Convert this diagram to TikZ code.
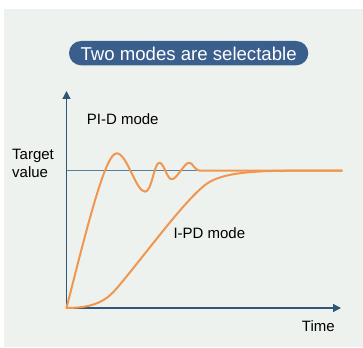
\documentclass[tikz,border=0pt]{standalone}
\usepackage{fontspec}
\setmainfont{Liberation Sans}
\usetikzlibrary{arrows.meta}
\definecolor{bgpanel}{HTML}{EDF2EF}
\definecolor{pill}{HTML}{3A5F8C}
\definecolor{axis}{HTML}{2D5878}
\definecolor{tgt}{HTML}{5A7E98}
\definecolor{curve}{HTML}{F0964F}
\tikzset{
  lbl/.style={inner sep=0pt, anchor=base west, font=\fontsize{15}{18}\selectfont, text=black},
  axisline/.style={draw=axis, line width=1.3pt, -{Triangle[length=8pt,width=8pt]}},
  resp/.style={draw=curve, line width=2pt, line cap=round, line join=round},
}
\begin{document}
\begin{tikzpicture}[x=1pt,y=-1pt]
\useasboundingbox (0,0) rectangle (363,347);
\fill[bgpanel] (4,9) rectangle (363,347);
\fill[pill, rounded corners=12.15pt] (69,41) rectangle (308.3,65.3);
\node[inner sep=0pt, anchor=base, text=white, font=\fontsize{18.6}{22}\selectfont] (title) at (188.6,61) {Two modes are selectable};
\coordinate (O) at (66.5,308);
\coordinate (ytop) at (66.5,91);
\coordinate (xend) at (341,308);
\coordinate (tl) at (66.5,170.7);
\coordinate (tr) at (342,170.7);
\draw[tgt, line width=1.5pt] (tl) -- (tr);
\draw[axisline] (O) -- (ytop);
\draw[axisline] (O) -- (xend);
% PI-D
\draw[resp] (O) .. controls (90,215) and (106,153.3) .. (116.7,153.3)
  .. controls (127,153.3) and (136,191.7) .. (145,191.7)
  .. controls (152,191.7) and (154,162.7) .. (159.3,162.7)
  .. controls (164,162.7) and (167,179.3) .. (171.7,179.3)
  .. controls (177,179.3) and (184,162.7) .. (189.3,162.7)
  .. controls (193,162.7) and (194,170.7) .. (201,170.7) -- (tr);
% I-PD
\draw[resp] (O) .. controls (95,308) and (107,300) .. (117,288)
  .. controls (145,255) and (182,203.4) .. (205,185)
  .. controls (222,171.4) and (260,170.7) .. (300,170.7) -- (tr);
\node[lbl] (pid) at (86.7,125) {PI-D mode};
\node[lbl] (tgt1) at (12,159.3) {Target};
\node[lbl] (tgt2) at (12,177.3) {value};
\node[lbl] (ipd) at (173.3,238) {I-PD mode};
\node[lbl] (time) at (301.7,331.7) {Time};
\end{tikzpicture}
\end{document}
